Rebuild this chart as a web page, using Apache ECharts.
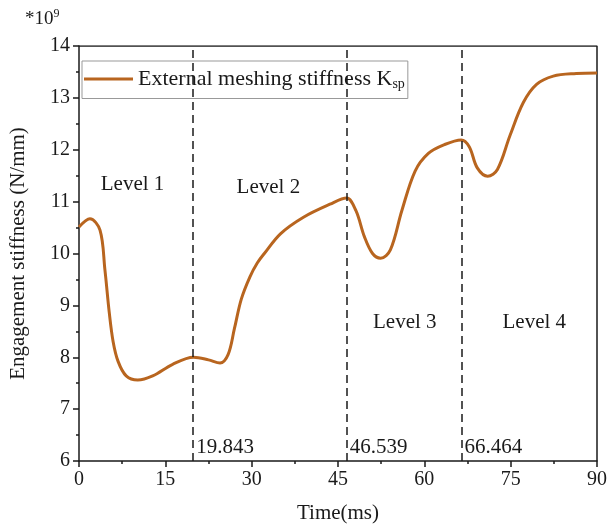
<!DOCTYPE html>
<html lang="en">
<head>
    <meta charset="UTF-8"/>
    <title>Engagement stiffness</title>
    <script src="https://cdn.jsdelivr.net/npm/echarts@6/dist/echarts.min.js"></script>
    <style>
        html, body { margin: 0; padding: 0; background: #fff; }
        #chart { width: 610px; height: 529px; }
    </style>
</head>
<body>
<div id="chart"></div>
<script type="text/javascript">
    // time (ms) and stiffness (*10^9 N/mm)
    var times = [0, 1.9, 3.65, 4.5, 5.25, 5.93, 6.79, 8.2, 10.2, 12.8, 16.2, 19.9, 22.5, 24.5, 25.9, 27.0, 28.2, 29.7,
        31.0, 32.2, 35.0, 39.0, 43.6, 46.5, 48.1, 49.6, 51.0, 52.4, 54.1, 56.1, 58.4, 60.7, 63.5, 66.4, 67.8, 69.2,
        71.0, 72.7, 74.9, 77.2, 79.5, 82.4, 86.4, 90];
    var stiffness = [10.51, 10.67, 10.45, 9.69, 8.87, 8.30, 7.92, 7.64, 7.56, 7.64, 7.86, 8.0, 7.95, 7.89, 8.05, 8.55,
        9.12, 9.55, 9.82, 10.0, 10.38, 10.70, 10.95, 11.07, 10.83, 10.32, 10.0, 9.91, 10.07, 10.83, 11.59, 11.93,
        12.10, 12.19, 12.06, 11.65, 11.49, 11.62, 12.28, 12.91, 13.26, 13.42, 13.47, 13.48];
    var boundaries = [19.843, 46.539, 66.464];
    var levelNames = ["Level 1", "Level 2", "Level 3", "Level 4"];
    var levelX = [9.3, 32.9, 56.6, 79.1];
    var levelY = [11.33, 11.27, 8.67, 8.67];
    var xTicks = [0, 15, 30, 45, 60, 75, 90];
    var yTicks = [6, 7, 8, 9, 10, 11, 12, 13, 14];

    var font = "Liberation Serif";
    var ink = "#1a1a1a";
    var curveColor = "#b8651f";

    var curve = times.map(function (t, i) { return [t, stiffness[i]]; });
    var levels = levelNames.map(function (n, i) { return [levelX[i], levelY[i], n]; });
    var boundaryLabels = boundaries.map(function (b) { return [b, 6.27]; });

    var chart = echarts.init(document.getElementById("chart"), null, {renderer: "canvas"});
    var option = {
        animation: false,
        backgroundColor: "#fff",
        textStyle: {fontFamily: font, color: ink},
        grid: {left: 72, right: 12, top: 46, bottom: 61, containLabel: false},
        graphic: [{
            type: "text",
            left: 25,
            top: 8,
            style: {
                text: "*10{sup|9}",
                font: "19px " + font,
                fill: ink,
                rich: {sup: {fontSize: 12, verticalAlign: "top", padding: [0, 0, 10, 0], fontFamily: font}}
            }
        }],
        legend: {
            left: 82,
            top: 61,
            padding: [7, 3, 7, 2],
            borderColor: "#999",
            borderWidth: 1,
            icon: "rect",
            itemWidth: 49,
            itemHeight: 3,
            textStyle: {
                fontFamily: font,
                fontSize: 22,
                color: ink,
                rich: {sub: {fontSize: 14, verticalAlign: "bottom", padding: [11, 0, 0, 0], fontFamily: font, color: ink}}
            },
            formatter: function (name) { return name + " K{sub|sp}"; },
            data: ["External meshing stiffness"]
        },
        xAxis: {
            type: "value",
            min: 0,
            max: 90,
            interval: 15,
            name: "Time(ms)",
            nameLocation: "middle",
            nameGap: 42,
            nameTextStyle: {fontFamily: font, fontSize: 21, color: ink},
            axisLine: {show: true, onZero: false, lineStyle: {color: ink, width: 1.5}},
            axisTick: {show: true, inside: false, length: 6, lineStyle: {color: ink, width: 1.5}},
            minorTick: {show: true, splitNumber: 2, length: 3, lineStyle: {color: ink, width: 1.5}},
            axisLabel: {fontFamily: font, fontSize: 20, color: ink, margin: 9,
                customValues: xTicks},
            splitLine: {show: false}
        },
        yAxis: {
            type: "value",
            min: 6,
            max: 14,
            interval: 1,
            name: "Engagement stiffness (N/mm)",
            nameLocation: "middle",
            nameGap: 50,
            nameTextStyle: {fontFamily: font, fontSize: 21, color: ink},
            axisLine: {show: true, onZero: false, lineStyle: {color: ink, width: 1.5}},
            axisTick: {show: true, inside: false, length: 6, lineStyle: {color: ink, width: 1.5}},
            minorTick: {show: true, splitNumber: 2, length: 3, lineStyle: {color: ink, width: 1.5}},
            axisLabel: {fontFamily: font, fontSize: 20, color: ink, margin: 9,
                customValues: yTicks},
            splitLine: {show: false}
        },
        series: [{
            name: "External meshing stiffness",
            type: "line",
            data: curve,
            smooth: 0.35,
            showSymbol: false,
            symbol: "none",
            lineStyle: {color: curveColor, width: 3},
            itemStyle: {color: curveColor},
            z: 3,
            markLine: {
                silent: true,
                symbol: ["none", "none"],
                label: {show: false},
                lineStyle: {color: ink, type: [8, 5], width: 1.5},
                data: boundaries.map(function (b) { return {xAxis: b}; })
            }
        }, {
            name: "levels",
            type: "scatter",
            data: levels,
            symbolSize: 0,
            silent: true,
            itemStyle: {opacity: 1},
            label: {
                show: true,
                position: "inside",
                fontFamily: font,
                fontSize: 21,
                color: ink,
                formatter: function (p) { return p.data[2]; }
            }
        }, {
            name: "boundaries",
            type: "scatter",
            data: boundaryLabels,
            symbolSize: 0,
            silent: true,
            itemStyle: {opacity: 1},
            label: {
                show: true,
                position: "right",
                distance: 3,
                fontFamily: font,
                fontSize: 21,
                color: ink,
                formatter: function (p) { return String(p.data[0]); }
            }
        }, {
            // top and right frame
            name: "frame",
            type: "line",
            data: [[0, 14], [90, 14], [90, 6]],
            symbol: "none",
            silent: true,
            lineStyle: {color: ink, width: 1.5},
            z: 1
        }]
    };
    chart.setOption(option);
</script>
</body>
</html>
